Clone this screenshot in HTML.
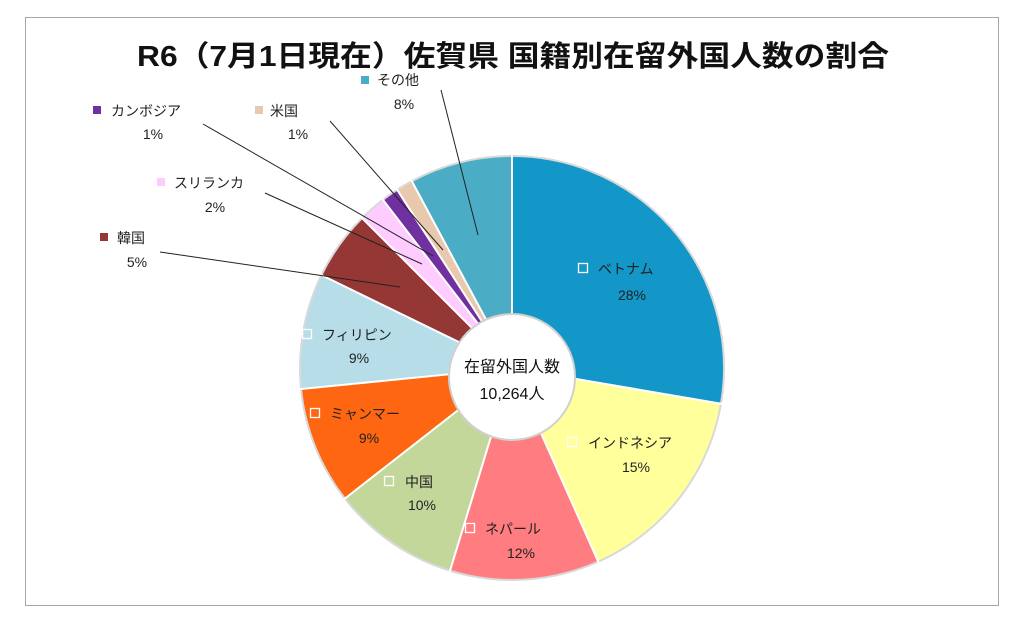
<!DOCTYPE html>
<html><head><meta charset="utf-8"><style>
html,body{margin:0;padding:0;background:#fff;}
svg{display:block;font-family:"Liberation Sans","Noto Sans CJK JP",sans-serif;}
</style></head><body>
<svg width="1024" height="639" viewBox="0 0 1024 639">
<rect x="0" y="0" width="1024" height="639" fill="#fff"/>
<rect x="25.5" y="17.5" width="973" height="588" fill="#fff" stroke="#a6a6a6" stroke-width="1"/>
<text x="513" y="66" text-anchor="middle" font-size="29" font-weight="bold" fill="#111" textLength="752" lengthAdjust="spacingAndGlyphs">R6（7月1日現在）佐賀県 国籍別在留外国人数の割合</text>
<circle cx="512" cy="368" r="213" fill="#d9d9d9"/>
<g transform="rotate(-90 512 368)" fill="none" stroke-width="211">
<circle cx="512" cy="368" r="105.5" pathLength="360" stroke="#1396c8" stroke-dasharray="99.7 360" stroke-dashoffset="0"/>
<circle cx="512" cy="368" r="105.5" pathLength="360" stroke="#ffff9c" stroke-dasharray="56.3 360" stroke-dashoffset="-99.7"/>
<circle cx="512" cy="368" r="105.5" pathLength="360" stroke="#ff7c80" stroke-dasharray="41 360" stroke-dashoffset="-156"/>
<circle cx="512" cy="368" r="105.5" pathLength="360" stroke="#c4d79b" stroke-dasharray="35 360" stroke-dashoffset="-197"/>
<circle cx="512" cy="368" r="105.5" pathLength="360" stroke="#fe6612" stroke-dasharray="32.3 360" stroke-dashoffset="-232"/>
<circle cx="512" cy="368" r="105.5" pathLength="360" stroke="#b7dee8" stroke-dasharray="31.7 360" stroke-dashoffset="-264.3"/>
<circle cx="512" cy="368" r="105.5" pathLength="360" stroke="#953735" stroke-dasharray="19 360" stroke-dashoffset="-296"/>
<circle cx="512" cy="368" r="105.5" pathLength="360" stroke="#ffccff" stroke-dasharray="7.5 360" stroke-dashoffset="-315"/>
<circle cx="512" cy="368" r="105.5" pathLength="360" stroke="#7030a0" stroke-dasharray="4.7 360" stroke-dashoffset="-322.5"/>
<circle cx="512" cy="368" r="105.5" pathLength="360" stroke="#e8c9ae" stroke-dasharray="4.6 360" stroke-dashoffset="-327.2"/>
<circle cx="512" cy="368" r="105.5" pathLength="360" stroke="#4bacc6" stroke-dasharray="28.2 360" stroke-dashoffset="-331.8"/>
</g>
<g stroke="#fff" stroke-width="2">
<line x1="512" y1="368" x2="512" y2="155" transform="rotate(0 512 368)"/>
<line x1="512" y1="368" x2="512" y2="155" transform="rotate(99.7 512 368)"/>
<line x1="512" y1="368" x2="512" y2="155" transform="rotate(156 512 368)"/>
<line x1="512" y1="368" x2="512" y2="155" transform="rotate(197 512 368)"/>
<line x1="512" y1="368" x2="512" y2="155" transform="rotate(232 512 368)"/>
<line x1="512" y1="368" x2="512" y2="155" transform="rotate(264.3 512 368)"/>
<line x1="512" y1="368" x2="512" y2="155" transform="rotate(296 512 368)"/>
<line x1="512" y1="368" x2="512" y2="155" transform="rotate(315 512 368)"/>
<line x1="512" y1="368" x2="512" y2="155" transform="rotate(322.5 512 368)"/>
<line x1="512" y1="368" x2="512" y2="155" transform="rotate(327.2 512 368)"/>
<line x1="512" y1="368" x2="512" y2="155" transform="rotate(331.8 512 368)"/>
</g>
<circle cx="512" cy="377" r="64" fill="#d0d0d0"/>
<circle cx="512" cy="377" r="62" fill="#fff"/>
<g font-size="16" fill="#111" text-anchor="middle">
<text x="512" y="372">在留外国人数</text>
<text x="512" y="399">10,264人</text>
</g>
<g stroke="#222" stroke-width="1" fill="none">
<line x1="441" y1="90" x2="478" y2="235"/>
<line x1="330" y1="121" x2="443" y2="250"/>
<line x1="203" y1="124" x2="433" y2="256"/>
<line x1="265" y1="193" x2="422" y2="264"/>
<line x1="160" y1="252" x2="400" y2="287"/>
</g>
<g font-size="14" fill="#222">
<g fill="none" stroke="#fff" stroke-width="1.3">
<rect x="578.5" y="263.5" width="9" height="9"/>
<rect x="567.5" y="437.5" width="9" height="9"/>
<rect x="465.5" y="523.5" width="9" height="9"/>
<rect x="384.5" y="476.5" width="9" height="9"/>
<rect x="310.5" y="408.5" width="9" height="9"/>
<rect x="302.5" y="329.5" width="9" height="9"/>
</g>
<text x="598" y="274">ベトナム</text><text x="632" y="300" text-anchor="middle">28%</text>
<text x="588" y="448">インドネシア</text><text x="636" y="472" text-anchor="middle">15%</text>
<text x="485" y="534">ネパール</text><text x="521" y="558" text-anchor="middle">12%</text>
<text x="405" y="487">中国</text><text x="422" y="510" text-anchor="middle">10%</text>
<text x="330" y="419">ミャンマー</text><text x="369" y="443" text-anchor="middle">9%</text>
<text x="322" y="340">フィリピン</text><text x="359" y="363" text-anchor="middle">9%</text>
<rect x="361" y="76" width="8" height="8" fill="#4bacc6"/>
<text x="377" y="85">その他</text><text x="404" y="109" text-anchor="middle">8%</text>
<rect x="255" y="106" width="8" height="8" fill="#e8c9ae"/>
<text x="270" y="116">米国</text><text x="298" y="139" text-anchor="middle">1%</text>
<rect x="93" y="106" width="8" height="8" fill="#7030a0"/>
<text x="111" y="116">カンボジア</text><text x="153" y="139" text-anchor="middle">1%</text>
<rect x="157" y="178" width="8" height="8" fill="#ffccff"/>
<text x="174" y="188">スリランカ</text><text x="215" y="212" text-anchor="middle">2%</text>
<rect x="100" y="233" width="8" height="8" fill="#953735"/>
<text x="117" y="243">韓国</text><text x="137" y="267" text-anchor="middle">5%</text>
</g>
</svg>
</body></html>
